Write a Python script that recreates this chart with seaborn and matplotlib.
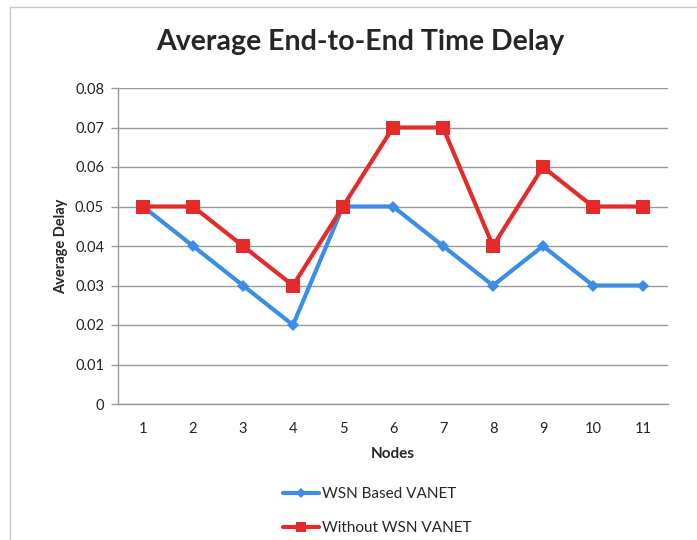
import numpy as np
import pandas as pd
import matplotlib
matplotlib.use('Agg')
import matplotlib.pyplot as plt
import seaborn as sns
from matplotlib.lines import Line2D

nodes = [1, 2, 3, 4, 5, 6, 7, 8, 9, 10, 11]
wsn_based = [0.05, 0.04, 0.03, 0.02, 0.05, 0.05, 0.04, 0.03, 0.04, 0.03, 0.03]
without_wsn = [0.05, 0.05, 0.04, 0.03, 0.05, 0.07, 0.07, 0.04, 0.06, 0.05, 0.05]
series_names = ['WSN Based VANET', 'Without WSN VANET']
y_ticks = [0, 0.01, 0.02, 0.03, 0.04, 0.05, 0.06, 0.07, 0.08]
y_tick_labels = ['0', '0.01', '0.02', '0.03', '0.04', '0.05', '0.06', '0.07', '0.08']

colors = {'WSN Based VANET': '#3a8ee6', 'Without WSN VANET': '#e52a2a'}

df = pd.concat([
    pd.DataFrame({'Nodes': nodes, 'Delay': wsn_based, 'Series': series_names[0]}),
    pd.DataFrame({'Nodes': nodes, 'Delay': without_wsn, 'Series': series_names[1]}),
]).reset_index(drop=True)

sns.set_style('white')
plt.rcParams['font.family'] = ['Lato', 'DejaVu Sans']

fig = plt.figure(figsize=(6.97, 5.4), dpi=100)
ax = fig.add_axes([118 / 697, 136 / 540, 550 / 697, 316 / 540])

sns.lineplot(data=df, x='Nodes', y='Delay', hue='Series', style='Series',
             hue_order=series_names, palette=colors,
             markers={'WSN Based VANET': 'D', 'Without WSN VANET': 's'},
             dashes=False, linewidth=3, legend=False, ax=ax)
for ln, ms in zip(ax.lines, [6.5, 9.5]):
    ln.set_markersize(ms)
    ln.set_markeredgewidth(0)

ax.set_xlim(0.5, 11.5)
ax.set_ylim(0, 0.08)
ax.set_xticks(nodes)
ax.set_xticklabels([str(n) for n in nodes], fontsize=10.5, color='#222222')
ax.set_yticks(y_ticks)
ax.set_yticklabels(y_tick_labels, fontsize=10.5, color='#222222')
ax.tick_params(axis='y', length=5, width=1, color='#999999', pad=5, left=True)
ax.tick_params(axis='x', length=0, pad=13)
ax.grid(axis='y', color='#999999', linewidth=1)
ax.set_axisbelow(True)
for s in ['top', 'right']:
    ax.spines[s].set_visible(False)
ax.spines['left'].set_color('#999999')
ax.spines['bottom'].set_color('#999999')
ax.spines['left'].set_linewidth(1)
ax.spines['bottom'].set_linewidth(1)

ax.set_xlabel('Nodes', fontsize=11, fontweight='bold', labelpad=8)
ax.set_ylabel('Average Delay', fontsize=10.5, fontweight='bold', labelpad=5)

fig.text(360 / 697, 1 - 42 / 540, 'Average End-to-End Time Delay',
         ha='center', va='center', fontsize=20.5, fontweight='bold')

handles = [Line2D([], [], color=colors[series_names[0]], marker='D', markersize=5, lw=3, markeredgewidth=0),
           Line2D([], [], color=colors[series_names[1]], marker='s', markersize=7, lw=3, markeredgewidth=0)]
fig.legend(handles, series_names, loc='center', bbox_to_anchor=(377 / 697, 1 - 511 / 540),
           frameon=False, fontsize=11, handlelength=2.4, handletextpad=0.15, labelspacing=1.3)

# chart border
fig.add_artist(Line2D([10 / 697, 10 / 697], [0, 1 - 7 / 540], transform=fig.transFigure, color='#c8c8c8', lw=1))
fig.add_artist(Line2D([10 / 697, 1], [1 - 7 / 540, 1 - 7 / 540], transform=fig.transFigure, color='#c8c8c8', lw=1))

fig.savefig('out.png', dpi=100)
